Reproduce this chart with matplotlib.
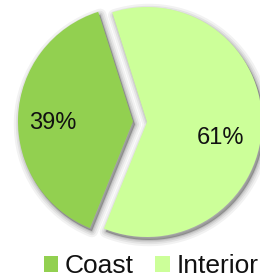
import matplotlib
matplotlib.use("Agg")
import matplotlib.pyplot as plt
from matplotlib.patches import Wedge

plt.rcParams['font.family'] = ['Liberation Sans', 'DejaVu Sans']

# Data
categories = ["Coast", "Interior"]
values = [39, 61]
colors = ["#92D050", "#CCFF99"]
explode = [0.122, 0.0]

W, H, DPI = 260, 280, 100
fig = plt.figure(figsize=(W / DPI, H / DPI), dpi=DPI)
ax = fig.add_axes([0, 0, 1, 1])

PX = 1 / 115.0  # data units per pixel (pie radius = 115 px)
cx, cy = 147, 122  # pixel position of pie centre (from top-left)

wedges, texts, autotexts = ax.pie(
    values, explode=explode, colors=colors, startangle=107.6,
    counterclock=True, autopct=lambda p: f"{p:.0f}%", pctdistance=0.70,
    wedgeprops=dict(linewidth=0), textprops=dict(fontsize=17, color="#111111"),
)

# soft drop shadow
for w in wedges:
    (x0, y0) = w.center
    for lw, a in [(9, 0.05), (6, 0.06), (3.5, 0.08), (1.5, 0.09)]:
        s = Wedge((x0 + 2 * PX, y0 - 3 * PX), w.r, w.theta1, w.theta2,
                  facecolor=(0, 0, 0, a), edgecolor=(0, 0, 0, a),
                  linewidth=lw, joinstyle="round", zorder=0)
        ax.add_patch(s)
for w in wedges:
    w.set_zorder(2)
for t in autotexts:
    t.set_zorder(3)

autotexts[0].set_position((-94 * PX, -1 * PX))
autotexts[1].set_position((74 * PX, -16 * PX))

ax.set_xlim(-cx * PX, (W - cx) * PX)
ax.set_ylim(-(H - cy) * PX, cy * PX)
ax.set_aspect("auto")
ax.axis("off")

fig.legend(wedges, categories, loc="center", bbox_to_anchor=(151 / W, 1 - 266 / H),
           ncol=2, frameon=False, fontsize=19, handlelength=0.55, handleheight=0.55,
           handletextpad=0.25, columnspacing=0.8, borderpad=0, labelcolor="#111111")

fig.savefig("out.png", dpi=DPI)
